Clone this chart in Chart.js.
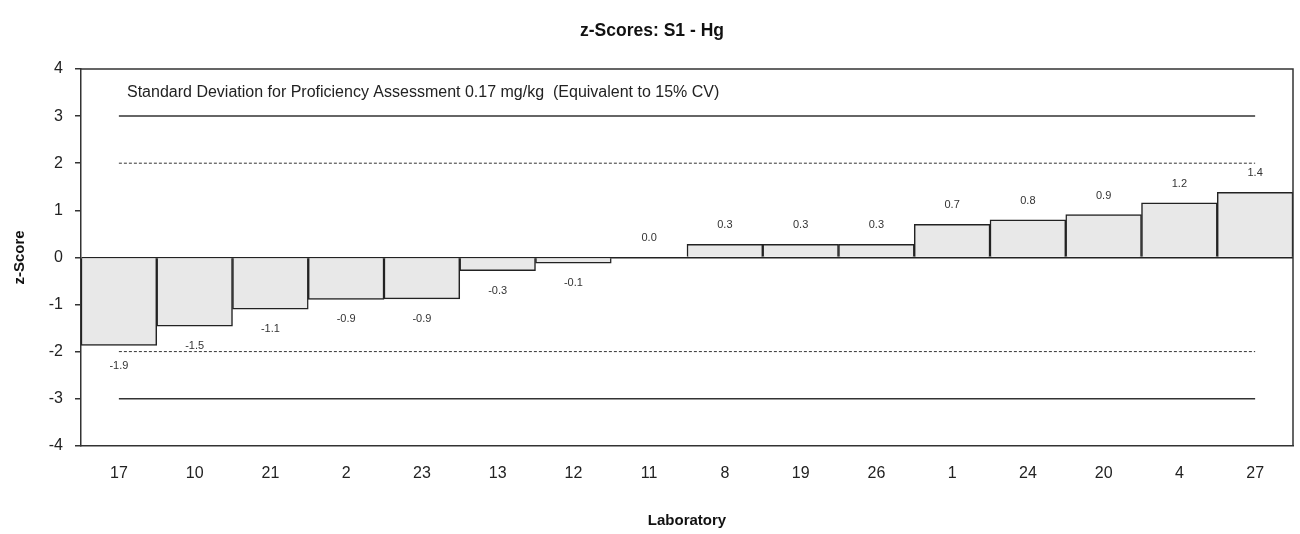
<!DOCTYPE html>
<html>
<head>
<meta charset="utf-8">
<script src="https://cdn.jsdelivr.net/npm/chart.js@4"></script>
<style>
  html, body { margin: 0; padding: 0; background: #fff; }
  #wrap { width: 1300px; height: 534px; }
</style>
</head>
<body>
<div id="wrap"><canvas id="myChart" width="1300" height="534"></canvas></div>
<script>
const labs = ['17', '10', '21', '2', '23', '13', '12', '11', '8', '19', '26', '1', '24', '20', '4', '27'];
const zScores = [-1.87, -1.46, -1.10, -0.89, -0.88, -0.28, -0.12, 0.0, 0.28, 0.28, 0.28, 0.70, 0.80, 0.91, 1.16, 1.38];
const actionLimits = [3, -3];   // solid
const warningLimits = [2, -2];  // dashed
const note = 'Standard Deviation for Proficiency Assessment 0.17 mg/kg  (Equivalent to 15% CV)';
const FONT = "'Liberation Sans', Arial, sans-serif";

const limitSet = (v, dashed) => ({
    type: 'line',
    data: labs.map(() => v),
    borderColor: '#333',
    borderWidth: dashed ? 1 : 1.5,
    borderDash: dashed ? [3, 2] : [],
    pointRadius: 0,
    fill: false,
    order: 0
});

// value labels above/below each bar
const barLabels = {
    id: 'barLabels',
    afterDatasetsDraw(chart) {
        const { ctx } = chart;
        const meta = chart.getDatasetMeta(0);
        ctx.save();
        ctx.font = '11px ' + FONT;
        ctx.fillStyle = '#333';
        ctx.textAlign = 'center';
        ctx.textBaseline = 'middle';
        meta.data.forEach((bar, i) => {
            const v = zScores[i];
            const y = v >= 0 ? bar.y - 19 : bar.y + 20;
            ctx.fillText(v.toFixed(1), bar.x, y);
        });
        ctx.restore();
    }
};

// box round the plot area + the note text
const frame = {
    id: 'frame',
    afterDraw(chart) {
        const { ctx, chartArea: { top, bottom, left, right }, scales: { y } } = chart;
        ctx.save();
        ctx.strokeStyle = '#333';
        ctx.lineWidth = 1.5;
        ctx.beginPath();
        ctx.moveTo(left, top);
        ctx.lineTo(right, top);
        ctx.lineTo(right, bottom);
        ctx.stroke();
        ctx.font = '16px ' + FONT;
        ctx.fillStyle = '#222';
        ctx.textBaseline = 'middle';
        ctx.fillText(note, left + 46, y.getPixelForValue(3.5));
        ctx.restore();
    }
};

const config = {
    type: 'bar',
    data: {
        labels: labs,
        datasets: [
            {
                data: zScores,
                backgroundColor: '#e8e8e8',
                borderColor: '#222',
                borderWidth: 1.5,
                categoryPercentage: 1,
                barPercentage: 1,
                order: 1
            },
            ...actionLimits.map(v => limitSet(v, false)),
            ...warningLimits.map(v => limitSet(v, true))
        ]
    },
    options: {
        responsive: false,
        animation: false,
        layout: { padding: { left: 11, right: 7, top: 0, bottom: 0 } },
        scales: {
            x: {
                offset: true,
                grid: { display: false },
                border: { color: '#333', width: 1.5 },
                ticks: { color: '#222', font: { family: FONT, size: 16 }, padding: 10 },
                title: { display: true, text: 'Laboratory', color: '#111',
                         font: { family: FONT, size: 15, weight: 'bold' }, padding: { top: 19, bottom: 4 } }
            },
            y: {
                min: -4, max: 4,
                ticks: { stepSize: 1, color: '#222', font: { family: FONT, size: 16 }, padding: 12 },
                grid: {
                    color: (c) => c.tick && c.tick.value === 0 ? '#222' : 'transparent',
                    lineWidth: 1.5,
                    tickColor: '#333',
                    tickLength: 6
                },
                border: { color: '#333', width: 1.5 },
                title: { display: true, text: 'z-Score', color: '#111',
                         font: { family: FONT, size: 15, weight: 'bold' }, padding: { top: 0, bottom: 6 } },
                afterFit: (s) => { s.width = 70; }
            }
        },
        plugins: {
            legend: { display: false },
            tooltip: { enabled: false },
            title: {
                display: true,
                text: 'z-Scores: S1 - Hg',
                color: '#111',
                font: { family: FONT, size: 17.5, weight: 'bold' },
                padding: { top: 21, bottom: 27 }
            }
        }
    },
    plugins: [barLabels, frame]
};

const myChart = new Chart(document.getElementById('myChart'), config);
</script>
</body>
</html>
